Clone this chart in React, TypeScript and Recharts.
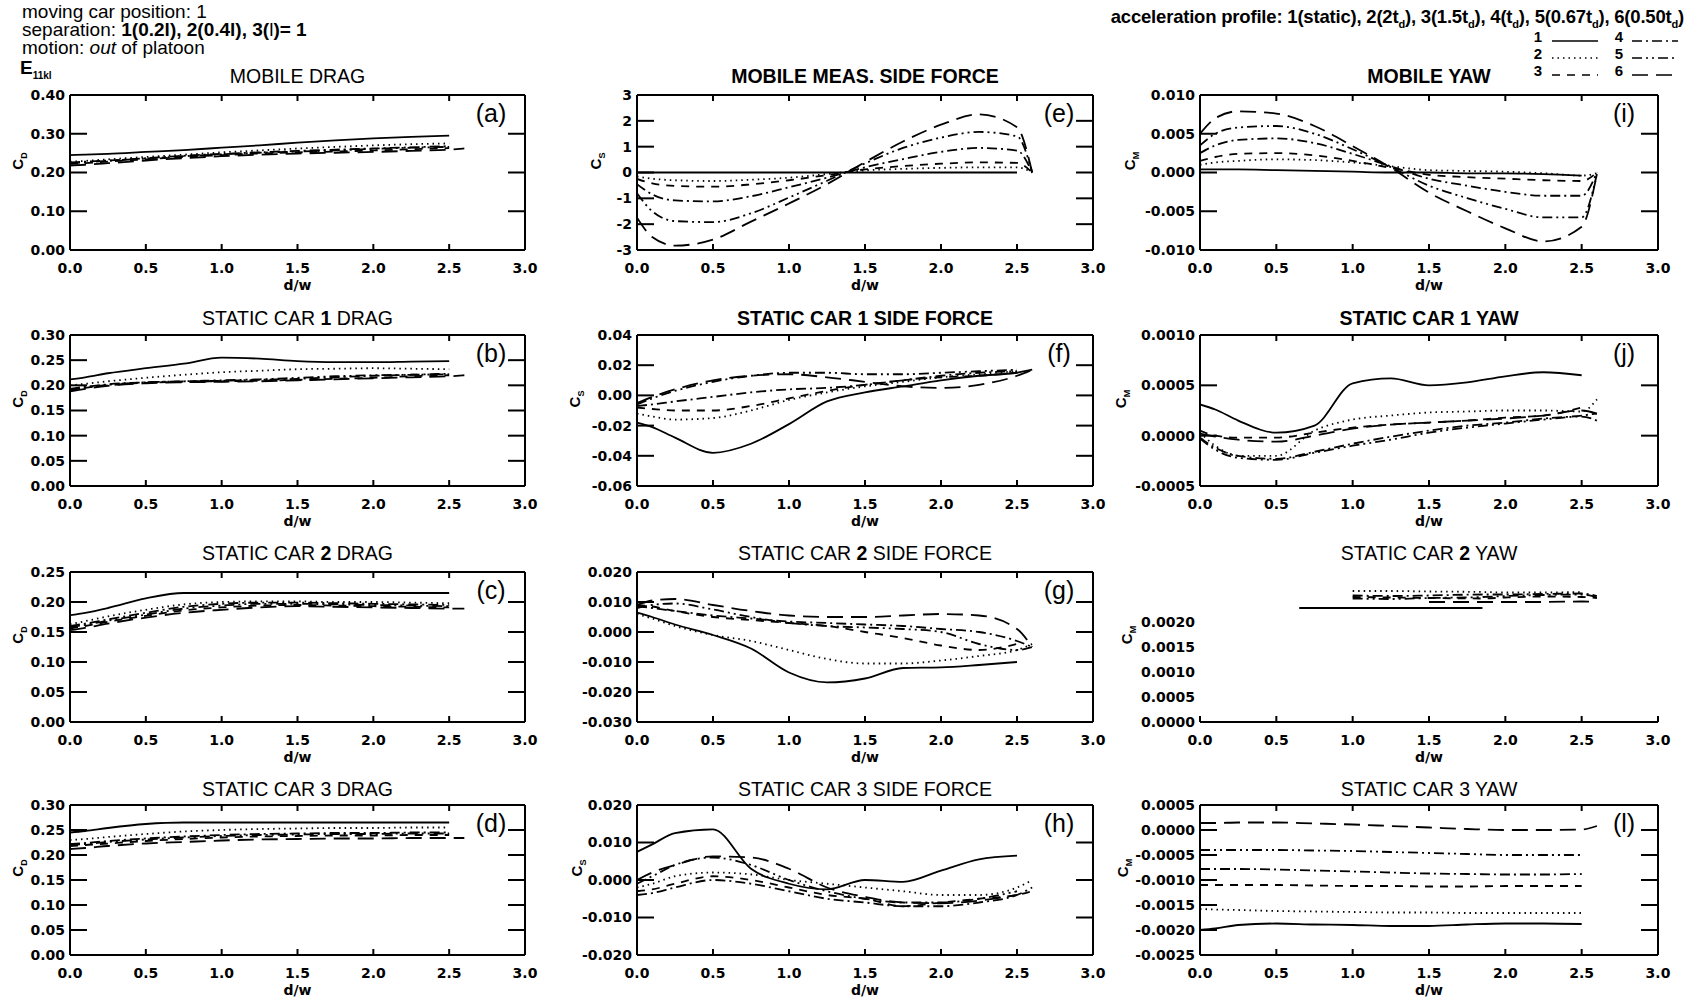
import React from "react";
import { LineChart, Line, XAxis, YAxis } from "recharts";

// d/w sample positions shared by the curves (null = no point there)
const DW = [0, 0.1, 0.25, 0.5, 0.75, 1, 1.25, 1.5, 1.75, 2, 2.25, 2.5, 2.6];
const DW_K = [0.65, 1.0, 1.25, 1.5, 1.85, 2.0, 2.25, 2.5, 2.6];
const X_TICKS = [0, 0.5, 1, 1.5, 2, 2.5, 3];

// series order in every panel: 1(static), 2(2td), 3(1.5td), 4(td), 5(0.67td), 6(0.50td)
const dragA = [
  [0.245, 0.246, 0.248, 0.253, 0.258, 0.264, 0.27, 0.277, 0.283, 0.288, 0.292, 0.295, null],
  [0.228, 0.23, 0.234, 0.24, 0.246, 0.252, 0.257, 0.262, 0.266, 0.27, 0.273, 0.275, null],
  [0.222, 0.224, 0.228, 0.234, 0.24, 0.245, 0.249, 0.252, 0.254, 0.257, 0.26, 0.263, null],
  [0.226, 0.228, 0.231, 0.237, 0.243, 0.248, 0.252, 0.256, 0.259, 0.262, 0.265, 0.268, null],
  [0.224, 0.226, 0.23, 0.236, 0.242, 0.247, 0.251, 0.254, 0.257, 0.261, 0.264, 0.266, null],
  [0.218, 0.22, 0.224, 0.231, 0.237, 0.242, 0.246, 0.249, 0.251, 0.253, 0.256, 0.259, 0.262],
];
const dragB = [
  [0.212, 0.216, 0.224, 0.234, 0.243, 0.255, 0.253, 0.248, 0.246, 0.246, 0.247, 0.248, null],
  [0.2, 0.203, 0.208, 0.215, 0.221, 0.226, 0.229, 0.232, 0.233, 0.234, 0.233, 0.232, null],
  [0.19, 0.195, 0.2, 0.205, 0.207, 0.208, 0.209, 0.211, 0.213, 0.215, 0.218, 0.22, null],
  [0.193, 0.197, 0.202, 0.206, 0.208, 0.209, 0.211, 0.213, 0.216, 0.219, 0.221, 0.223, null],
  [0.191, 0.196, 0.201, 0.206, 0.208, 0.21, 0.212, 0.215, 0.218, 0.22, 0.221, 0.222, null],
  [0.188, 0.193, 0.199, 0.204, 0.206, 0.207, 0.208, 0.21, 0.212, 0.214, 0.216, 0.218, 0.22],
];
const dragC = [
  [0.178, 0.182, 0.19, 0.206, 0.215, 0.215, 0.215, 0.215, 0.215, 0.215, 0.215, 0.215, null],
  [0.163, 0.168, 0.176, 0.187, 0.196, 0.2, 0.201, 0.201, 0.2, 0.2, 0.199, 0.198, null],
  [0.156, 0.16, 0.167, 0.177, 0.186, 0.191, 0.194, 0.195, 0.194, 0.193, 0.192, 0.191, null],
  [0.16, 0.164, 0.171, 0.182, 0.192, 0.197, 0.199, 0.199, 0.198, 0.197, 0.196, 0.195, null],
  [0.158, 0.162, 0.169, 0.179, 0.189, 0.194, 0.197, 0.197, 0.196, 0.195, 0.194, 0.193, null],
  [0.153, 0.157, 0.164, 0.174, 0.182, 0.187, 0.191, 0.193, 0.192, 0.191, 0.19, 0.189, 0.189],
];
const dragD = [
  [0.245, 0.248, 0.254, 0.262, 0.265, 0.265, 0.265, 0.265, 0.265, 0.265, 0.265, 0.265, null],
  [0.23, 0.232, 0.236, 0.242, 0.247, 0.25, 0.252, 0.253, 0.254, 0.254, 0.255, 0.255, null],
  [0.218, 0.22, 0.223, 0.228, 0.232, 0.235, 0.237, 0.238, 0.239, 0.239, 0.24, 0.24, null],
  [0.222, 0.224, 0.228, 0.233, 0.237, 0.24, 0.242, 0.243, 0.244, 0.244, 0.245, 0.245, null],
  [0.22, 0.222, 0.226, 0.231, 0.235, 0.238, 0.24, 0.241, 0.242, 0.242, 0.243, 0.243, null],
  [0.212, 0.214, 0.218, 0.223, 0.226, 0.229, 0.231, 0.232, 0.233, 0.233, 0.234, 0.234, 0.234],
];
const sideE = [
  [0, 0, 0, 0, 0, 0, 0, 0, 0, 0, 0, 0, null],
  [-0.15, -0.24, -0.3, -0.33, -0.28, -0.2, -0.06, 0.08, 0.14, 0.18, 0.2, 0.2, 0.0],
  [-0.25, -0.42, -0.52, -0.55, -0.46, -0.3, -0.1, 0.12, 0.25, 0.34, 0.39, 0.37, 0.0],
  [-0.45, -0.85, -1.08, -1.12, -0.92, -0.57, -0.2, 0.2, 0.52, 0.8, 0.95, 0.85, 0.0],
  [-0.8, -1.5, -1.88, -1.92, -1.58, -0.97, -0.32, 0.35, 0.95, 1.35, 1.57, 1.4, 0.0],
  [-1.75, -2.5, -2.83, -2.6, -1.9, -1.2, -0.45, 0.4, 1.2, 1.85, 2.25, 1.75, 0.0],
];
const sideF = [
  [-0.018, -0.021, -0.028, -0.038, -0.032, -0.019, -0.004, 0.002, 0.006, 0.01, 0.013, 0.015, 0.017],
  [-0.012, -0.014, -0.016, -0.015, -0.01, -0.003, 0.002, 0.006, 0.009, 0.012, 0.014, 0.016, null],
  [-0.008, -0.009, -0.01, -0.01, -0.007, -0.002, 0.003, 0.007, 0.01, 0.012, 0.013, 0.015, null],
  [-0.007, -0.006, -0.004, -0.001, 0.002, 0.004, 0.005, 0.007, 0.01, 0.013, 0.015, 0.016, null],
  [-0.006, -0.002, 0.003, 0.009, 0.013, 0.015, 0.015, 0.014, 0.014, 0.015, 0.016, 0.017, null],
  [-0.005, -0.001, 0.004, 0.01, 0.013, 0.014, 0.012, 0.009, 0.006, 0.005, 0.007, 0.013, 0.017],
];
const sideG = [
  [0.0065, 0.005, 0.0025, -0.001, -0.0055, -0.0135, -0.0168, -0.0155, -0.012, -0.0118, -0.011, -0.01, null],
  [0.006, 0.0045, 0.002, -0.001, -0.003, -0.006, -0.009, -0.0105, -0.0105, -0.0095, -0.008, -0.006, -0.004],
  [0.009, 0.0085, 0.007, 0.005, 0.004, 0.003, 0.002, 0.0, -0.002, -0.0045, -0.006, -0.004, null],
  [0.0085, 0.008, 0.007, 0.0055, 0.0045, 0.0035, 0.003, 0.0025, 0.002, 0.001, 0.0, -0.003, -0.005],
  [0.008, 0.009, 0.0095, 0.0075, 0.005, 0.003, 0.002, 0.0015, 0.001, 0.0, -0.004, -0.006, -0.005],
  [0.009, 0.0105, 0.011, 0.009, 0.007, 0.0055, 0.005, 0.005, 0.0055, 0.006, 0.0055, 0.001, -0.005],
];
const sideH = [
  [0.0075, 0.0095, 0.0125, 0.0135, 0.003, -0.001, -0.0025, 0.0, -0.0005, 0.0025, 0.0055, 0.0065, null],
  [-0.002, -0.001, 0.001, 0.002, 0.0015, 0.0, -0.001, -0.002, -0.003, -0.004, -0.004, -0.002, 0.0],
  [-0.003, -0.0025, -0.001, 0.001, 0.0, -0.002, -0.004, -0.005, -0.007, -0.006, -0.005, -0.004, -0.003],
  [-0.004, -0.0035, -0.002, 0.0, -0.001, -0.003, -0.005, -0.006, -0.007, -0.007, -0.006, -0.004, -0.002],
  [-0.001, 0.001, 0.004, 0.006, 0.004, 0.0, -0.003, -0.005, -0.006, -0.006, -0.005, -0.003, null],
  [0.0, 0.002, 0.004, 0.0063, 0.006, 0.003, -0.002, -0.0045, -0.006, -0.0062, -0.0055, -0.004, null],
];
const yawI = [
  [0.0004, 0.0004, 0.0004, 0.0003, 0.0002, 0.0001, 0.0, 0.0, -0.0001, -0.0001, -0.0002, -0.0004, null],
  [0.001, 0.0013, 0.0015, 0.0017, 0.0016, 0.0013, 0.0008, 0.0003, 0.0002, 0.0001, -0.0001, -0.0004, -0.0001],
  [0.0015, 0.002, 0.0024, 0.0025, 0.0022, 0.0015, 0.0006, -0.0003, -0.0006, -0.0008, -0.001, -0.0011, 0.0],
  [0.0025, 0.0035, 0.0042, 0.0044, 0.0038, 0.0024, 0.0008, -0.0008, -0.0017, -0.0025, -0.003, -0.003, 0.0],
  [0.0035, 0.005, 0.0058, 0.006, 0.005, 0.003, 0.0007, -0.0017, -0.0033, -0.0047, -0.0058, -0.0058, -0.0002],
  [0.005, 0.007, 0.0079, 0.0076, 0.006, 0.0034, 0.0006, -0.0026, -0.005, -0.0072, -0.0089, -0.007, -0.0002],
];
const yawJ = [
  [0.00031, 0.00026, 0.00015, 0.00003, 0.0001, 0.00052, 0.00057, 0.0005, 0.00053, 0.00059, 0.00063, 0.0006, null],
  [0.00003, -0.0001, -0.0002, -0.0002, 0.00005, 0.00016, 0.0002, 0.00023, 0.00024, 0.00025, 0.00025, 0.00024, 0.00036],
  [0.00005, 0.0, -0.00002, -0.00002, 0.00003, 0.00008, 0.00011, 0.00013, 0.00015, 0.00018, 0.0002, 0.00028, null],
  [-0.00002, -0.00012, -0.0002, -0.00023, -0.00016, -0.00008, -0.00001, 0.00005, 0.0001, 0.00013, 0.00017, 0.0002, 0.00022],
  [-0.00003, -0.00014, -0.00022, -0.00024, -0.00017, -0.0001, -0.00004, 0.00003, 0.00008, 0.00012, 0.00016, 0.00019, 0.00015],
  [0.00002, -0.00001, -0.00004, -0.00006, 0.0, 0.00007, 0.00011, 0.00013, 0.00015, 0.00017, 0.0002, 0.00025, 0.00022],
];
const yawK = [
  [0.00228, 0.00228, 0.00228, 0.00228, 0.00228, null, null, null, null],
  [null, 0.00262, 0.00262, 0.00261, 0.0026, 0.00259, 0.00259, 0.0026, null],
  [null, 0.0025, 0.00249, 0.00248, 0.00247, 0.00249, 0.00251, 0.0025, 0.00248],
  [null, 0.00253, 0.00252, 0.00253, 0.00255, 0.00255, 0.00256, 0.00257, 0.00252],
  [null, 0.00247, 0.00246, 0.00248, 0.0025, 0.00252, 0.00254, 0.00255, 0.0025],
  [null, null, null, 0.0024, 0.0024, 0.0024, 0.0024, 0.00241, 0.0024],
];
const yawL = [
  [-0.002, -0.00197, -0.0019, -0.00187, -0.00189, -0.0019, -0.00192, -0.00192, -0.00189, -0.00187, -0.00187, -0.00188, null],
  [-0.00158, -0.00159, -0.0016, -0.00162, -0.00163, -0.00164, -0.00165, -0.00165, -0.00166, -0.00166, -0.00166, -0.00166, null],
  [-0.0011, -0.0011, -0.0011, -0.0011, -0.00111, -0.00112, -0.00112, -0.00113, -0.00113, -0.00112, -0.00112, -0.00112, null],
  [-0.00078, -0.00078, -0.00078, -0.00079, -0.00081, -0.00083, -0.00085, -0.00087, -0.00088, -0.00089, -0.00089, -0.00088, null],
  [-0.0004, -0.0004, -0.0004, -0.0004, -0.00041, -0.00042, -0.00044, -0.00046, -0.00048, -0.0005, -0.0005, -0.0005, null],
  [0.00014, 0.00014, 0.00015, 0.00015, 0.00013, 0.00011, 0.00008, 0.00005, 0.00002, 0.0, 0.0, 0.00001, 0.00008],
];

const TICKS_DRAG_40 = [0, 0.1, 0.2, 0.3, 0.4];
const TICKS_DRAG_30 = [0, 0.05, 0.1, 0.15, 0.2, 0.25, 0.3];
const TICKS_DRAG_25 = [0, 0.05, 0.1, 0.15, 0.2, 0.25];
const TICKS_E = [-3, -2, -1, 0, 1, 2, 3];
const TICKS_F = [-0.06, -0.04, -0.02, 0, 0.02, 0.04];
const TICKS_G = [-0.03, -0.02, -0.01, 0, 0.01, 0.02];
const TICKS_H = [-0.02, -0.01, 0, 0.01, 0.02];
const TICKS_I = [-0.01, -0.005, 0, 0.005, 0.01];
const TICKS_J = [-0.0005, 0, 0.0005, 0.001];
const TICKS_K = [0, 0.0005, 0.001, 0.0015, 0.002];
const TICKS_L = [-0.0025, -0.002, -0.0015, -0.001, -0.0005, 0, 0.0005];

const DASH = [undefined, "1.5 4", "8 7", "10 4 2 4", "10 4 2 4 2 4", "16 8"];

const COLS = [
  { x: 70, w: 455 },
  { x: 637, w: 456 },
  { x: 1200, w: 458 },
];
const ROWS = [
  { y: 95, h: 155, ty: 76 },
  { y: 335, h: 151, ty: 318 },
  { y: 572, h: 150, ty: 553 },
  { y: 805, h: 150, ty: 789 },
];

const FONT = "'Liberation Sans', Arial, Helvetica, sans-serif";
const TICK_FONT = "'DejaVu Sans', sans-serif";

const B = (t: string) => <b>{t}</b>;

const PANELS = [
  { c: 0, r: 0, s: dragA, d: [0, 0.4], t: TICKS_DRAG_40, n: 2, tag: "(a)", y: "D", yx: 19, title: <>MOBILE DRAG</> },
  { c: 1, r: 0, s: sideE, d: [-3, 3], t: TICKS_E, n: 0, tag: "(e)", y: "S", yx: 597, title: B("MOBILE MEAS. SIDE FORCE") },
  { c: 2, r: 0, s: yawI, d: [-0.01, 0.01], t: TICKS_I, n: 3, tag: "(i)", y: "M", yx: 1131, title: B("MOBILE YAW") },
  { c: 0, r: 1, s: dragB, d: [0, 0.3], t: TICKS_DRAG_30, n: 2, tag: "(b)", y: "D", yx: 19, title: <>STATIC CAR {B("1")} DRAG</> },
  { c: 1, r: 1, s: sideF, d: [-0.06, 0.04], t: TICKS_F, n: 2, tag: "(f)", y: "S", yx: 576, title: B("STATIC CAR 1 SIDE FORCE") },
  { c: 2, r: 1, s: yawJ, d: [-0.0005, 0.001], t: TICKS_J, n: 4, tag: "(j)", y: "M", yx: 1122, title: B("STATIC CAR 1 YAW") },
  { c: 0, r: 2, s: dragC, d: [0, 0.25], t: TICKS_DRAG_25, n: 2, tag: "(c)", y: "D", yx: 19, title: <>STATIC CAR {B("2")} DRAG</> },
  { c: 1, r: 2, s: sideG, d: [-0.03, 0.02], t: TICKS_G, n: 3, tag: "(g)", y: "", yx: 0, title: <>STATIC CAR {B("2")} SIDE FORCE</> },
  { c: 2, r: 2, s: yawK, xs: DW_K, d: [0, 0.003], t: TICKS_K, n: 4, tag: "", y: "M", yx: 1128, open: true, title: <>STATIC CAR {B("2")} YAW</> },
  { c: 0, r: 3, s: dragD, d: [0, 0.3], t: TICKS_DRAG_30, n: 2, tag: "(d)", y: "D", yx: 19, title: <>STATIC CAR 3 DRAG</> },
  { c: 1, r: 3, s: sideH, d: [-0.02, 0.02], t: TICKS_H, n: 3, tag: "(h)", y: "S", yx: 578, title: <>STATIC CAR 3 SIDE FORCE</> },
  { c: 2, r: 3, s: yawL, d: [-0.0025, 0.0005], t: TICKS_L, n: 4, tag: "(l)", y: "M", yx: 1124, title: <>STATIC CAR 3 YAW</> },
];

const tickStyle = { fill: "#000", fontSize: 14, fontWeight: 700, fontFamily: TICK_FONT };
const axisStroke = { stroke: "#000", strokeWidth: 2 };
const blank = () => "";

function Panel({ p }: { p: any }) {
  const col = COLS[p.c];
  const row = ROWS[p.r];
  const xs = p.xs || DW;
  const L = 92, R = 28, T = 10, H = 50;
  const lines = p.s.map((s: (number | null)[]) =>
    xs.map((x: number, i: number) => ({ x, y: s[i] })).filter((q: any) => q.y !== null)
  );
  const xCommon = { type: "number" as const, dataKey: "x", domain: [0, 3], ticks: X_TICKS, interval: 0, allowDataOverflow: true };
  const yCommon = { type: "number" as const, domain: p.d, ticks: p.t, interval: 0, allowDataOverflow: true };
  return (
    <div style={{ position: "absolute", left: col.x - L, top: row.y - T }}>
      <LineChart width={col.w + L + R} height={row.h + T + H} margin={{ top: T, right: R, bottom: 0, left: 0 }}>
        {/* labelled axes */}
        <XAxis xAxisId="b" {...xCommon} height={H} tickSize={6} tickMargin={7}
          tickFormatter={(v: number) => v.toFixed(1)} tick={tickStyle} axisLine={axisStroke} tickLine={false} />
        <YAxis yAxisId="l" {...yCommon} width={L} tickSize={2} tickMargin={3}
          tickFormatter={(v: number) => v.toFixed(p.n)} tick={tickStyle}
          axisLine={p.open ? false : axisStroke} tickLine={false} />
        {/* inward tick marks */}
        <XAxis xAxisId="bm" {...xCommon} mirror orientation="bottom" tickSize={6} tickFormatter={blank}
          tick={tickStyle} axisLine={false} tickLine={axisStroke} />
        {!p.open && (
          <XAxis xAxisId="t" {...xCommon} mirror orientation="top" tickSize={6} tickFormatter={blank}
            tick={tickStyle} axisLine={axisStroke} tickLine={axisStroke} />
        )}
        {!p.open && (
          <YAxis yAxisId="lm" {...yCommon} mirror orientation="left" tickSize={17} tickFormatter={blank}
            tick={tickStyle} axisLine={false} tickLine={axisStroke} />
        )}
        {!p.open && (
          <YAxis yAxisId="r" {...yCommon} mirror orientation="right" tickSize={17} tickFormatter={blank}
            tick={tickStyle} axisLine={axisStroke} tickLine={axisStroke} />
        )}
        {lines.map((d: any[], i: number) => (
          <Line key={i} data={d} dataKey="y" xAxisId="b" yAxisId="l" type="monotone" stroke="#000"
            strokeWidth={1.8} strokeDasharray={DASH[i]} dot={false} activeDot={false} isAnimationActive={false} />
        ))}
      </LineChart>
    </div>
  );
}

function At({ x, y, children, style }: { x: number; y: number; children: any; style?: any }) {
  return (
    <div style={{ position: "absolute", left: x, top: y, transform: "translate(-50%, -50%)", whiteSpace: "nowrap", ...style }}>
      {children}
    </div>
  );
}

function PanelText({ p }: { p: any }) {
  const col = COLS[p.c];
  const row = ROWS[p.r];
  const cx = col.x + col.w / 2;
  return (
    <>
      <At x={cx} y={row.ty} style={{ fontSize: 19.5 }}>{p.title}</At>
      {p.tag && <At x={col.x + col.w - 34} y={row.y + 18} style={{ fontSize: 25 }}>{p.tag}</At>}
      <At x={cx} y={row.y + row.h + 35} style={{ fontSize: 14, fontWeight: 700, fontFamily: TICK_FONT }}>d/w</At>
      {p.y && (
        <At x={p.yx} y={row.y + row.h / 2 - 12} style={{ fontSize: 15, fontWeight: 700, transform: "translate(-50%, -50%) rotate(-90deg)" }}>
          C<sub style={{ fontSize: 9 }}>{p.y}</sub>
        </At>
      )}
    </>
  );
}

const LEGEND_NUM = ["1", "2", "3", "4", "5", "6"];

function Legend() {
  return (
    <svg style={{ position: "absolute", left: 1520, top: 25 }} width={172} height={60}>
      {LEGEND_NUM.map((n, i) => {
        const c = i < 3 ? 0 : 1;
        const y = 12 + (i % 3) * 17;
        const nx = c === 0 ? 18 : 99;
        const x1 = c === 0 ? 32 : 112;
        return (
          <g key={n}>
            <text x={nx} y={y + 5} fontSize={15} fontWeight={700} fontFamily={FONT} textAnchor="middle">{n}</text>
            <line x1={x1} x2={x1 + 46} y1={y + 4} y2={y + 4} stroke="#000" strokeWidth={1.7} strokeDasharray={DASH[i]} />
          </g>
        );
      })}
    </svg>
  );
}

const sub = (t: string) => <sub style={{ fontSize: 11 }}>{t}</sub>;

export default function App() {
  return (
    <div style={{ position: "absolute", left: 0, top: 0, width: 1692, height: 1002, background: "#fff", fontFamily: FONT, color: "#000" }}>
      <div style={{ position: "absolute", left: 22, top: 3, fontSize: 19, lineHeight: "18px", whiteSpace: "nowrap" }}>
        moving car position: 1<br />
        separation: <b>1(0.2l), 2(0.4l), 3(</b>l<b>)= 1</b><br />
        motion: <i>out</i> of platoon
      </div>
      <div style={{ position: "absolute", left: 20, top: 57, fontSize: 19, fontWeight: 700 }}>
        E<sub style={{ fontSize: 10 }}>11kl</sub>
      </div>
      <div style={{ position: "absolute", right: 8, top: 6, fontSize: 18.5, fontWeight: 700, letterSpacing: -0.2, whiteSpace: "nowrap" }}>
        acceleration profile: 1(static), 2(2t{sub("d")}), 3(1.5t{sub("d")}), 4(t{sub("d")}), 5(0.67t{sub("d")}), 6(0.50t{sub("d")})
      </div>
      <Legend />
      {PANELS.map((p, i) => (
        <Panel key={i} p={p} />
      ))}
      {PANELS.map((p, i) => (
        <PanelText key={"t" + i} p={p} />
      ))}
    </div>
  );
}
